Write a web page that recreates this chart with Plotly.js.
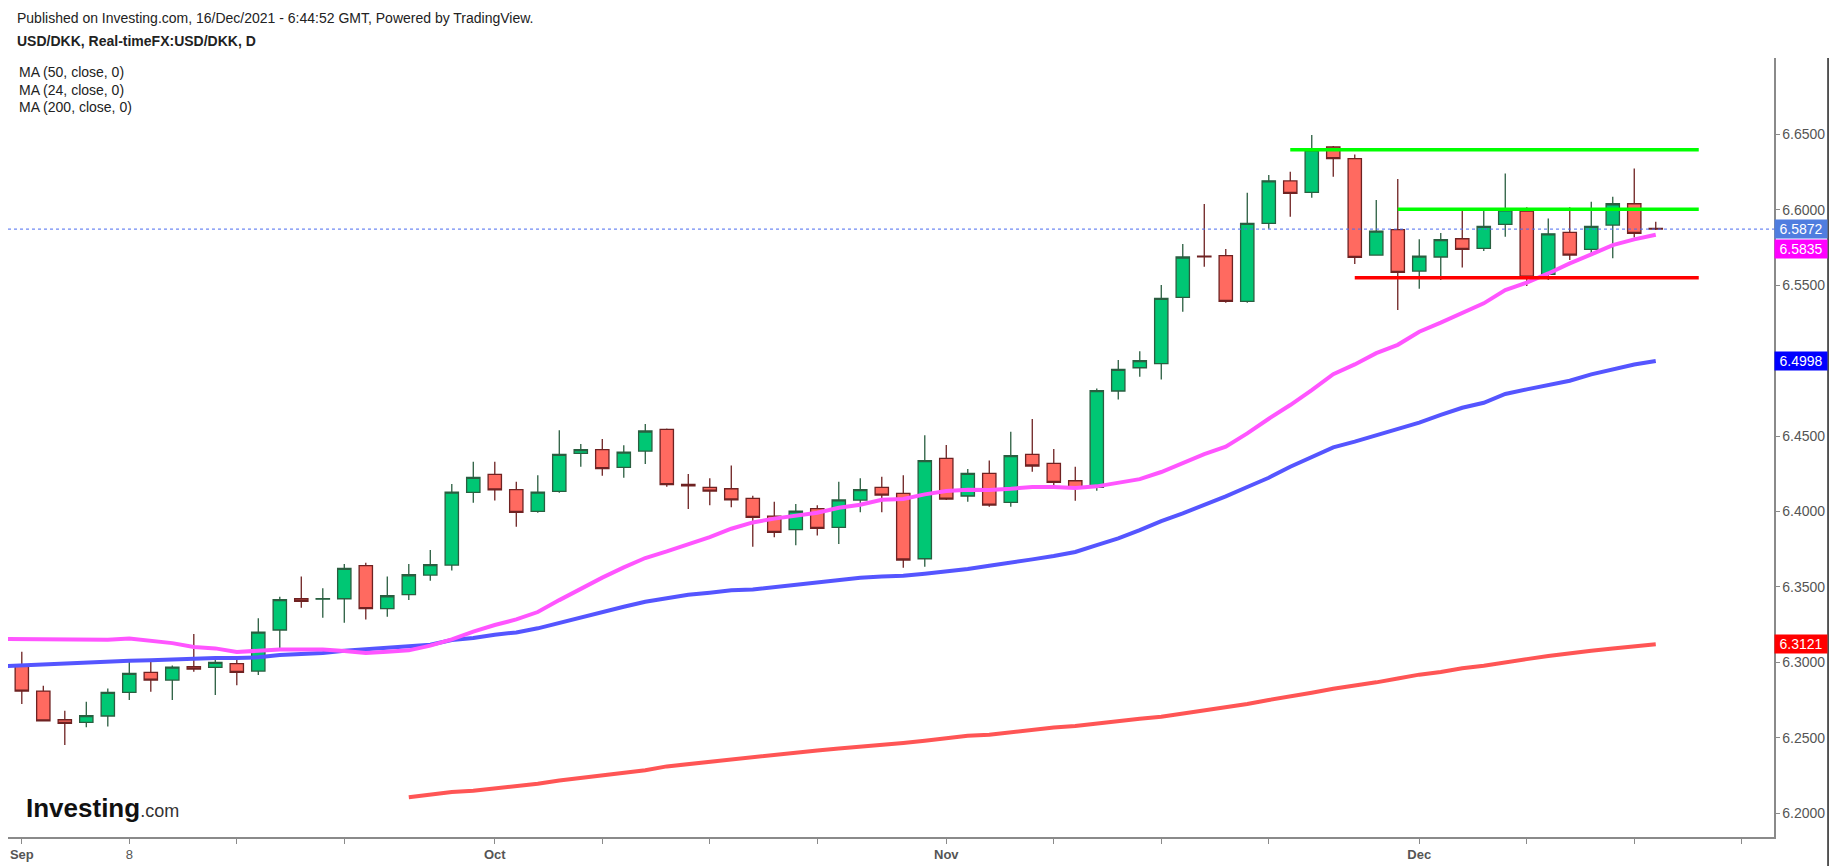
<!DOCTYPE html>
<html>
<head>
<meta charset="utf-8">
<script src="https://cdn.plot.ly/plotly-3.0.1.min.js"></script>
<style>
html,body{margin:0;padding:0;background:#fff;}
#chart{width:1837px;height:866px;}
</style>
</head>
<body>
<div id="chart"></div>
<script>
// ---- Data ----
const prevDate = '2021-08-31';
const dates = [
'2021-09-01','2021-09-02','2021-09-03',
'2021-09-06','2021-09-07','2021-09-08','2021-09-09','2021-09-10',
'2021-09-13','2021-09-14','2021-09-15','2021-09-16','2021-09-17',
'2021-09-20','2021-09-21','2021-09-22','2021-09-23','2021-09-24',
'2021-09-27','2021-09-28','2021-09-29','2021-09-30','2021-10-01',
'2021-10-04','2021-10-05','2021-10-06','2021-10-07','2021-10-08',
'2021-10-11','2021-10-12','2021-10-13','2021-10-14','2021-10-15',
'2021-10-18','2021-10-19','2021-10-20','2021-10-21','2021-10-22',
'2021-10-25','2021-10-26','2021-10-27','2021-10-28','2021-10-29',
'2021-11-01','2021-11-02','2021-11-03','2021-11-04','2021-11-05',
'2021-11-08','2021-11-09','2021-11-10','2021-11-11','2021-11-12',
'2021-11-15','2021-11-16','2021-11-17','2021-11-18','2021-11-19',
'2021-11-22','2021-11-23','2021-11-24','2021-11-25','2021-11-26',
'2021-11-29','2021-11-30','2021-12-01','2021-12-02','2021-12-03',
'2021-12-06','2021-12-07','2021-12-08','2021-12-09','2021-12-10',
'2021-12-13','2021-12-14','2021-12-15','2021-12-16'
];
const futureDates = ['2021-12-17','2021-12-20','2021-12-21','2021-12-22','2021-12-23','2021-12-24'];

const open = [
6.2976,6.2810,6.2620,6.2603,6.2645,6.2802,6.2934,6.2883,6.2972,6.2967,
6.2992,6.2943,6.3215,6.3422,6.3419,6.3422,6.3641,6.3356,6.3449,6.3579,
6.3645,6.4127,6.4246,6.4145,6.4001,6.4134,6.4386,6.4410,6.4293,6.4401,
6.4545,6.4180,6.4160,6.4151,6.4087,6.3970,6.3880,6.4019,6.3895,6.4076,
6.4160,6.4120,6.3687,6.4352,6.4103,6.4253,6.4061,6.4379,6.4319,6.4204,
6.4160,6.4799,6.4953,6.4980,6.5419,6.5692,6.5696,6.5393,6.5910,6.6191,
6.6115,6.6416,6.6339,6.5700,6.5868,6.5594,6.5687,6.5808,6.5744,6.5903,
6.5992,6.5572,6.5850,6.5738,6.5899,6.6040,6.5876
];
const high = [
6.3071,6.2846,6.2680,6.2740,6.2828,6.3022,6.3005,6.2980,6.3188,6.3038,
6.3038,6.3292,6.3436,6.3570,6.3491,6.3652,6.3661,6.3570,6.3652,6.3745,
6.4182,6.4330,6.4330,6.4198,6.4240,6.4538,6.4447,6.4481,6.4439,6.4580,
6.4551,6.4249,6.4220,6.4306,6.4105,6.4065,6.4050,6.4041,6.4198,6.4220,
6.4231,6.4240,6.4505,6.4441,6.4282,6.4339,6.4529,6.4613,6.4414,6.4297,
6.4816,6.5004,6.5062,6.5501,6.5773,6.6038,6.5740,6.6113,6.6230,6.6252,
6.6495,6.6423,6.6367,6.6065,6.6204,6.5804,6.5846,6.6009,6.6009,6.6241,
6.6016,6.5943,6.6016,6.6054,6.6087,6.6274,6.5921
];
const low = [
6.2724,6.2608,6.2453,6.2570,6.2576,6.2751,6.2806,6.2751,6.2938,6.2784,
6.2848,6.2916,6.3082,6.3363,6.3296,6.3263,6.3285,6.3303,6.3413,6.3542,
6.3610,6.4059,6.4074,6.3900,6.3992,6.4125,6.4297,6.4238,6.4224,6.4315,
6.4165,6.4017,6.4041,6.4028,6.3767,6.3829,6.3776,6.3842,6.3785,6.3995,
6.3995,6.3628,6.3634,6.4076,6.4065,6.4032,6.4032,6.4264,6.4149,6.4072,
6.4138,6.4743,6.4894,6.4876,6.5324,6.5623,6.5384,6.5384,6.5875,6.5954,
6.6080,6.6219,6.5640,6.5700,6.5335,6.5477,6.5534,6.5618,6.5727,6.5822,
6.5495,6.5534,6.5667,6.5693,6.5678,6.5817,6.5866
];
const close = [
6.2810,6.2612,6.2596,6.2647,6.2802,6.2927,6.2883,6.2969,6.2956,6.3000,
6.2934,6.3201,6.3416,6.3405,6.3422,6.3623,6.3356,6.3442,6.3581,6.3648,
6.4129,6.4227,6.4143,6.3995,6.4129,6.4379,6.4410,6.4284,6.4394,6.4534,
6.4178,6.4170,6.4136,6.4078,6.3961,6.3862,6.4003,6.3888,6.4077,6.4145,
6.4109,6.3679,6.4337,6.4083,6.4253,6.4043,6.4370,6.4302,6.4193,6.4154,
6.4801,6.4942,6.5000,6.5413,6.5687,6.5688,6.5393,6.5910,6.6192,6.6109,
6.6398,6.6339,6.5685,6.5859,6.5585,6.5693,6.5802,6.5738,6.5890,6.6000,
6.5554,6.5841,6.5700,6.5890,6.6040,6.5844,6.5872
];

// Moving averages, first value is 2021-08-31
const ma24 = [
6.3155,
6.3155,6.3155,6.3155,6.3151,6.3151,6.3159,6.3146,6.3128,6.3102,6.3093,
6.3069,6.3080,6.3086,6.3086,6.3086,6.3075,6.3062,6.3071,6.3080,6.3111,
6.3153,6.3204,6.3248,6.3285,6.3334,6.3413,6.3489,6.3562,6.3630,6.3692,
6.3736,6.3782,6.3831,6.3886,6.3928,6.3953,6.3972,6.3992,6.4025,6.4045,
6.4078,6.4083,6.4114,6.4136,6.4145,6.4143,6.4151,6.4163,6.4163,6.4156,
6.4167,6.4193,6.4215,6.4262,6.4319,6.4381,6.4430,6.4518,6.4615,6.4706,
6.4805,6.4910,6.4975,6.5050,6.5105,6.5192,6.5252,6.5318,6.5380,6.5468,
6.5517,6.5578,6.5645,6.5704,6.5766,6.5804,6.5835
];
const ma50 = [
6.2974,
6.2981,6.2985,6.2994,6.3000,6.3005,6.3011,6.3014,6.3020,6.3027,6.3029,
6.3029,6.3034,6.3049,6.3053,6.3062,6.3078,6.3087,6.3093,6.3102,6.3117,
6.3148,6.3162,6.3184,6.3199,6.3226,6.3263,6.3299,6.3336,6.3369,6.3402,
6.3427,6.3449,6.3462,6.3478,6.3484,6.3500,6.3511,6.3526,6.3545,6.3562,
6.3570,6.3575,6.3588,6.3603,6.3619,6.3641,6.3659,6.3683,6.3705,6.3732,
6.3778,6.3822,6.3877,6.3937,6.3988,6.4041,6.4101,6.4163,6.4224,6.4297,
6.4363,6.4425,6.4463,6.4507,6.4547,6.4589,6.4640,6.4688,6.4721,6.4779,
6.4810,6.4838,6.4867,6.4909,6.4942,6.4975,6.4998
];
const ma200 = [
null,
null,null,null,null,null,null,null,null,null,null,
null,null,null,null,null,null,null,null,6.2106,6.2126,
6.2141,6.2150,6.2165,6.2181,6.2196,6.2218,6.2236,6.2251,6.2267,6.2285,
6.2311,6.2327,6.2342,6.2358,6.2371,6.2386,6.2404,6.2417,6.2430,6.2441,
6.2457,6.2466,6.2481,6.2499,6.2514,6.2521,6.2539,6.2554,6.2569,6.2578,
6.2596,6.2611,6.2627,6.2640,6.2660,6.2684,6.2702,6.2724,6.2751,6.2773,
6.2799,6.2826,6.2846,6.2868,6.2894,6.2919,6.2936,6.2961,6.2978,6.3002,
6.3022,6.3042,6.3062,6.3078,6.3093,6.3109,6.3121
];

// Drawn horizontal levels
const levelValues = [6.6398, 6.6003, 6.5550];
const levelStarts = ['2021-11-23', '2021-11-30', '2021-11-26'];
const levelEnd = '2021-12-20';
const levelColors = ['#00ff00', '#00ff00', '#ff0000'];

// Axis ticks
const tickDates = ['2021-09-01','2021-09-08','2021-09-15','2021-09-22','2021-10-01','2021-10-08','2021-10-15','2021-10-22',
                   '2021-11-01','2021-11-08','2021-11-15','2021-11-22','2021-12-01','2021-12-08','2021-12-15','2021-12-22'];
const tickLabels = ['<b>Sep</b>','8','','','<b>Oct</b>','','','','<b>Nov</b>','','','','<b>Dec</b>','','',''];
const priceTicks = [6.20, 6.25, 6.30, 6.35, 6.40, 6.45, 6.50, 6.55, 6.60, 6.65];

// ---- Build chart ----
const allDates = [prevDate].concat(dates, futureDates);
const maDates = [prevDate].concat(dates);
const FONT = '"Liberation Sans", Arial, sans-serif';

const traces = [];
traces.push({ // registers the category slots of the time axis
  x: allDates, y: allDates.map(() => null), type: 'scatter', mode: 'lines',
  hoverinfo: 'skip', showlegend: false
});
traces.push({
  type: 'candlestick', x: dates, open: open, high: high, low: low, close: close,
  increasing: {line: {color: '#2a5e40', width: 1.3}, fillcolor: '#00c774'},
  decreasing: {line: {color: '#6e2222', width: 1.3}, fillcolor: '#ff6a60'},
  whiskerwidth: 0, showlegend: false, hoverinfo: 'skip'
});
traces.push({x: maDates, y: ma200, type: 'scatter', mode: 'lines', line: {color: '#ff5555', width: 4}, showlegend: false, hoverinfo: 'skip'});
traces.push({x: maDates, y: ma50, type: 'scatter', mode: 'lines', line: {color: '#5555ff', width: 4}, showlegend: false, hoverinfo: 'skip'});
traces.push({x: maDates, y: ma24, type: 'scatter', mode: 'lines', line: {color: '#ff55ff', width: 4}, showlegend: false, hoverinfo: 'skip'});
levelValues.forEach((v, k) => {
  traces.push({x: [levelStarts[k], levelEnd], y: [v, v], type: 'scatter', mode: 'lines',
    line: {color: levelColors[k], width: 3.5}, showlegend: false, hoverinfo: 'skip'});
});

const lastClose = close[close.length - 1];
const boxes = [
  {v: lastClose, c: '#4f7ddf', shift: 0},
  {v: ma24[ma24.length - 1], c: '#ff00ff', shift: -14},
  {v: ma50[ma50.length - 1], c: '#0000ff', shift: 0},
  {v: ma200[ma200.length - 1], c: '#ff0000', shift: 0}
];

const annotations = [
  {xref: 'paper', yref: 'paper', x: 0.004, y: 1.0513, xanchor: 'left', yanchor: 'middle', showarrow: false,
   text: 'Published on Investing.com, 16/Dec/2021 - 6:44:52 GMT, Powered by TradingView.', font: {family: FONT, size: 14, color: '#222'}},
  {xref: 'paper', yref: 'paper', x: 0.004, y: 1.0218, xanchor: 'left', yanchor: 'middle', showarrow: false,
   text: '<b>USD/DKK, Real-timeFX:USD/DKK, D</b>', font: {family: FONT, size: 14, color: '#222'}},
  {xref: 'paper', yref: 'paper', x: 0.005, y: 0.9820, xanchor: 'left', yanchor: 'middle', showarrow: false,
   text: 'MA (50, close, 0)', font: {family: FONT, size: 14, color: '#222'}},
  {xref: 'paper', yref: 'paper', x: 0.005, y: 0.9589, xanchor: 'left', yanchor: 'middle', showarrow: false,
   text: 'MA (24, close, 0)', font: {family: FONT, size: 14, color: '#222'}},
  {xref: 'paper', yref: 'paper', x: 0.005, y: 0.9371, xanchor: 'left', yanchor: 'middle', showarrow: false,
   text: 'MA (200, close, 0)', font: {family: FONT, size: 14, color: '#222'}},
  {xref: 'paper', yref: 'paper', x: 0.009, y: 0.0372, xanchor: 'left', yanchor: 'middle', showarrow: false,
   text: '<b>Investing</b><span style="font-size:18px;font-weight:normal;color:#333">.com</span>',
   font: {family: FONT, size: 26, color: '#111'}}
];
boxes.forEach(b => {
  annotations.push({xref: 'paper', yref: 'y', x: 1, y: b.v, xanchor: 'left', yanchor: 'middle', yshift: b.shift,
    showarrow: false, text: b.v.toFixed(4), bgcolor: b.c, width: 50, height: 16, borderpad: 1, align: 'center',
    font: {family: FONT, size: 14, color: '#ffffff'}});
});

const layout = {
  width: 1837, height: 866,
  margin: {l: 8, r: 63, t: 58, b: 29, pad: 0},
  paper_bgcolor: '#ffffff', plot_bgcolor: '#ffffff',
  showlegend: false,
  boxgap: 0.38, boxgroupgap: 0,
  font: {family: FONT},
  xaxis: {
    type: 'category', categoryorder: 'array', categoryarray: allDates,
    range: [0.358, 82.5], rangeslider: {visible: false},
    tickmode: 'array', tickvals: tickDates, ticktext: tickLabels,
    ticks: 'outside', ticklen: 5, tickcolor: '#8a8a8a', tickwidth: 1,
    showline: true, linecolor: '#8a8a8a', linewidth: 1.5,
    showgrid: false, zeroline: false,
    tickfont: {family: FONT, size: 13, color: '#555'}
  },
  yaxis: {
    side: 'right', range: [6.1843, 6.7006],
    tickmode: 'array', tickvals: priceTicks, ticktext: priceTicks.map(v => v.toFixed(4)),
    ticks: 'outside', ticklen: 4, tickcolor: '#8a8a8a', tickwidth: 1,
    showline: true, linecolor: '#8a8a8a', linewidth: 1.5,
    showgrid: false, zeroline: false,
    tickfont: {family: FONT, size: 14, color: '#555'}
  },
  shapes: [
    {type: 'line', xref: 'paper', yref: 'y', x0: 0, x1: 1, y0: lastClose, y1: lastClose,
     line: {color: '#4a6cf0', width: 1, dash: 'dot'}, layer: 'above'},
    {type: 'line', xref: 'paper', yref: 'paper', x0: 1.0306, x1: 1.0306, y0: 1, y1: -0.04,
     line: {color: '#222', width: 1.5}}
  ],
  annotations: annotations
};

Plotly.newPlot('chart', traces, layout, {staticPlot: true, displayModeBar: false});
</script>
</body>
</html>
